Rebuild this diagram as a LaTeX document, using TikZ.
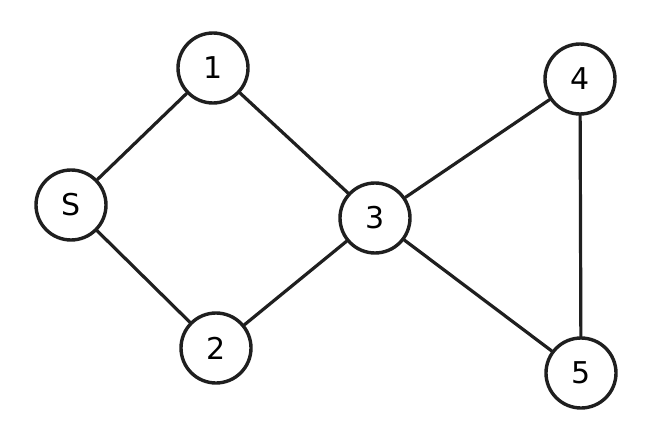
\documentclass[tikz,border=0pt]{standalone}
\usepackage{fontspec}
\setmainfont{DejaVu Sans}
\begin{document}
\begin{tikzpicture}[x=1pt,y=-1pt,
  vert/.style={circle,draw=black!88,line width=3.4pt,minimum size=70pt,inner sep=0pt,font=\fontsize{30}{30}\selectfont},
  edge/.style={draw=black!88,line width=3.2pt,line cap=round}]
\useasboundingbox[fill=white] (0,0) rectangle (653,425);
\node[vert] (n1) at (213,68) {1};
\node[vert] (nS) at (71,205) {S};
\node[vert] (n3) at (375,218) {3};
\node[vert] (n2) at (216,348) {2};
\node[vert] (n4) at (580,79) {4};
\node[vert] (n5) at (581,373) {5};
\draw[edge] (n1) -- (nS);
\draw[edge] (n1) -- (n3);
\draw[edge] (nS) -- (n2);
\draw[edge] (n2) -- (n3);
\draw[edge] (n3) -- (n4);
\draw[edge] (n3) -- (n5);
\draw[edge] (n4) -- (n5);
\end{tikzpicture}
\end{document}
